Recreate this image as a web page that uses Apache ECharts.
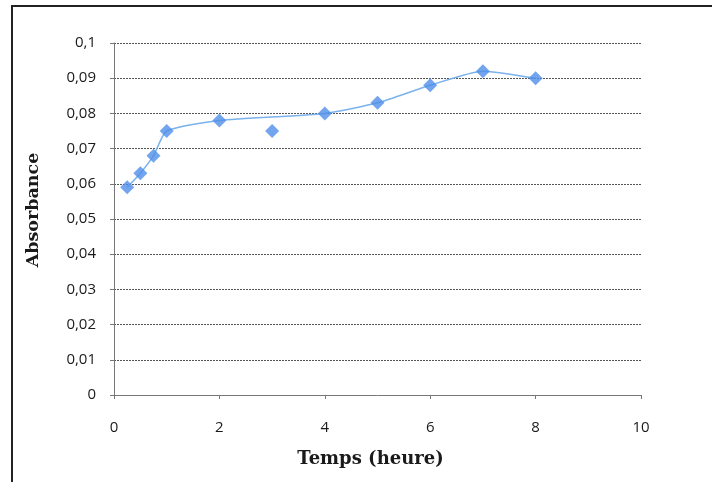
<!DOCTYPE html>
<html>
<head>
<meta charset="utf-8">
<script src="https://cdn.jsdelivr.net/npm/echarts@6/dist/echarts.min.js"></script>
<style>
  html, body { margin: 0; padding: 0; background: #fff; }
  #chart { width: 712px; height: 482px; }
</style>
</head>
<body>
<div id="chart"></div>
<script>
// temps (heure) and absorbance
var temps = [0.25, 0.5, 0.75, 1, 2, 3, 4, 5, 6, 7, 8];
var absorbance = [0.059, 0.063, 0.068, 0.075, 0.078, 0.075, 0.080, 0.083, 0.088, 0.092, 0.090];
// the curve skips the point at 3 h
var skipped = [3];

var points = [];
var curve = [];
for (var i = 0; i < temps.length; i++) {
  points.push([temps[i], absorbance[i]]);
  if (skipped.indexOf(temps[i]) < 0) curve.push([temps[i], absorbance[i]]);
}

var chart = echarts.init(document.getElementById('chart'));
var gridLine = { show: true, lineStyle: { color: '#555', type: [2, 1], width: 1 } };
var option = {
  animation: false,
  // frame of the chart area, cut off at the right and bottom
  graphic: [{
    type: 'rect',
    shape: { x: 12, y: 6, width: 720, height: 500 },
    style: { fill: 'none', stroke: '#222', lineWidth: 2 }
  }],
  grid: { left: 114, right: 71, top: 43, bottom: 87 },
  xAxis: {
    type: 'value',
    min: 0, max: 10, interval: 2,
    name: 'Temps (heure)',
    nameLocation: 'middle',
    nameGap: 55,
    nameTextStyle: { fontFamily: 'DejaVu Serif', fontWeight: 'bold', fontSize: 18, color: '#1a1a1a', padding: [0, 14, 0, 0] },
    axisLine: { show: true, lineStyle: { color: '#777' } },
    axisTick: { show: true, length: 4, lineStyle: { color: '#777' } },
    axisLabel: { fontFamily: 'Open Sans', fontSize: 15, color: '#1a1a1a', margin: 25 },
    splitLine: { show: false }
  },
  yAxis: {
    type: 'value',
    min: 0, max: 0.1, interval: 0.01,
    name: 'Absorbance',
    nameLocation: 'middle',
    nameGap: 72,
    nameTextStyle: { fontFamily: 'DejaVu Serif', fontWeight: 'bold', fontSize: 17.5, color: '#1a1a1a', padding: [0, 0, 0, 18] },
    axisLine: { show: true, lineStyle: { color: '#777' } },
    axisTick: { show: true, length: 4, lineStyle: { color: '#777' } },
    axisLabel: {
      fontFamily: 'Open Sans', fontSize: 15, color: '#1a1a1a', margin: 18,
      formatter: function (v) { return String(+v.toFixed(2)).replace('.', ','); }
    },
    splitLine: gridLine
  },
  series: [
    {
      type: 'line',
      data: curve,
      smooth: 0.2,
      showSymbol: false,
      lineStyle: { color: '#7ab2ec', width: 1.5 },
      z: 2
    },
    {
      type: 'scatter',
      data: points,
      symbol: 'diamond',
      symbolSize: 14,
      itemStyle: { color: '#4f8ee8' },
      z: 3
    }
  ]
};
chart.setOption(option);
</script>
</body>
</html>
